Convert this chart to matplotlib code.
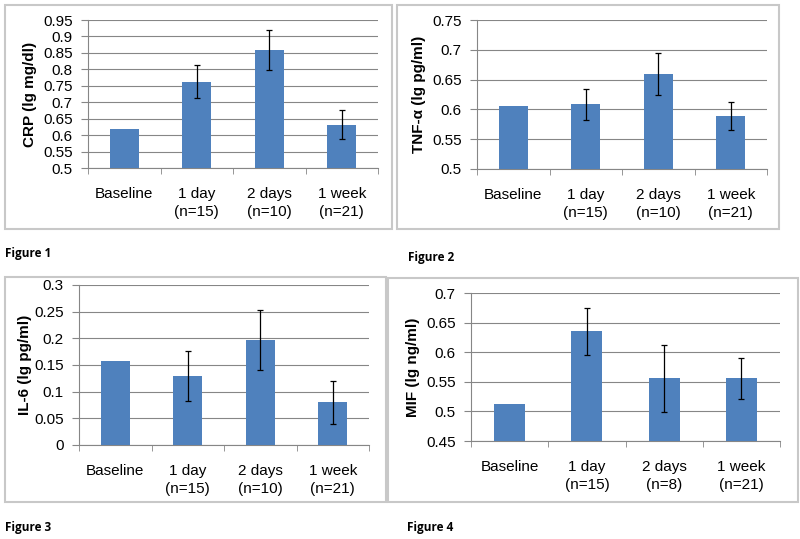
import matplotlib
matplotlib.use("Agg")
import matplotlib.pyplot as plt
from matplotlib.patches import Rectangle
import numpy as np

# data
categories = ["Baseline", "1 day\n(n=15)", "2 days\n(n=10)", "1 week\n(n=21)"]
categories_mif = ["Baseline", "1 day\n(n=15)", "2 days\n(n=8)", "1 week\n(n=21)"]

crp = [0.618, 0.763, 0.860, 0.632]
crp_err = [0, 0.051, 0.061, 0.044]

tnf = [0.605, 0.609, 0.660, 0.589]
tnf_err = [0, 0.026, 0.035, 0.024]

il6 = [0.158, 0.129, 0.197, 0.080]
il6_err = [0, 0.047, 0.057, 0.040]

mif = [0.513, 0.635, 0.556, 0.556]
mif_err = [0, 0.040, 0.057, 0.035]

W, H = 800, 539
BAR = "#4F81BD"
AXIS = "#868686"

plt.rcParams['font.family'] = ['Liberation Sans', 'DejaVu Sans']

fig = plt.figure(figsize=(W / 100, H / 100), dpi=100)


def px_rect(l, t, r, b):
    return [l / W, 1 - b / H, (r - l) / W, (b - t) / H]


def panel(box, axrect, labels, vals, errs, ylim, step, ylabel, labx, fmt):
    # light grey frame round each chart
    l, t, r, b = box
    fig.patches.append(Rectangle((l / W, 1 - b / H), (r - l) / W, (b - t) / H,
                                 transform=fig.transFigure, fill=False,
                                 edgecolor="#c8c8c8", linewidth=1.5))
    ax = fig.add_axes(px_rect(*axrect))
    x = np.arange(len(vals))
    ax.bar(x, vals, width=0.4, color=BAR, zorder=3)
    # baseline has no error bar
    ax.errorbar(x[1:], vals[1:], yerr=errs[1:], fmt="none", ecolor="black",
                elinewidth=0.9, capsize=2.5, capthick=0.9, zorder=4)
    ax.set_xlim(-0.5, len(vals) - 0.5)
    ax.set_ylim(*ylim)
    ticks = np.arange(ylim[0], ylim[1] + step / 2, step)
    ax.set_yticks(ticks)
    ax.set_yticklabels([fmt(v) for v in ticks], fontsize=11)
    ax.yaxis.grid(True, color=AXIS, linewidth=0.8, zorder=0)
    ax.set_xticks(x)
    ax.set_xticklabels(labels, fontsize=11, linespacing=1.3)
    ax.set_xticks(np.arange(-0.5, len(vals)), minor=True)
    ax.tick_params(axis="x", which="major", length=0, pad=14)
    ax.tick_params(axis="x", which="minor", length=4, color=AXIS)
    ax.tick_params(axis="y", length=5, color=AXIS, pad=6)
    for s in ["top", "right"]:
        ax.spines[s].set_visible(False)
    for s in ["left", "bottom"]:
        ax.spines[s].set_color(AXIS)
        ax.spines[s].set_linewidth(0.8)
    ax.set_ylabel(ylabel, fontsize=11, fontweight="bold")
    ax.yaxis.set_label_coords(labx, 0.5)
    return ax


def f_trim(v):
    s = "%.2f" % v
    s = s.rstrip("0").rstrip(".")
    return s if s else "0"


panel((5, 5, 392, 229), (88, 20, 378, 168), categories, crp, crp_err,
      (0.5, 0.95), 0.05, "CRP (lg mg/dl)", -0.176, f_trim)
panel((397, 5, 779, 229), (477, 20, 767, 169), categories, tnf, tnf_err,
      (0.5, 0.75), 0.05, "TNF-α (lg pg/ml)", -0.176, f_trim)
panel((5, 277, 386, 502), (79, 285, 369, 445), categories, il6, il6_err,
      (0.0, 0.3), 0.05, "IL-6 (lg pg/ml)", -0.162, f_trim)
panel((388, 278, 798, 502), (471, 293, 780, 441), categories_mif, mif, mif_err,
      (0.45, 0.7), 0.05, "MIF (lg ng/ml)", -0.165, f_trim)

captions = [("Figure 1", 5, 254), ("Figure 2", 408, 257),
            ("Figure 3", 5, 527), ("Figure 4", 407, 527)]
for txt, cx, cy in captions:
    fig.text(cx / W, 1 - cy / H, txt, fontsize=8.5, fontweight="bold",
             family=["Open Sans", "DejaVu Sans"], ha="left", va="center")

fig.savefig("out.png", dpi=100, facecolor="white")
